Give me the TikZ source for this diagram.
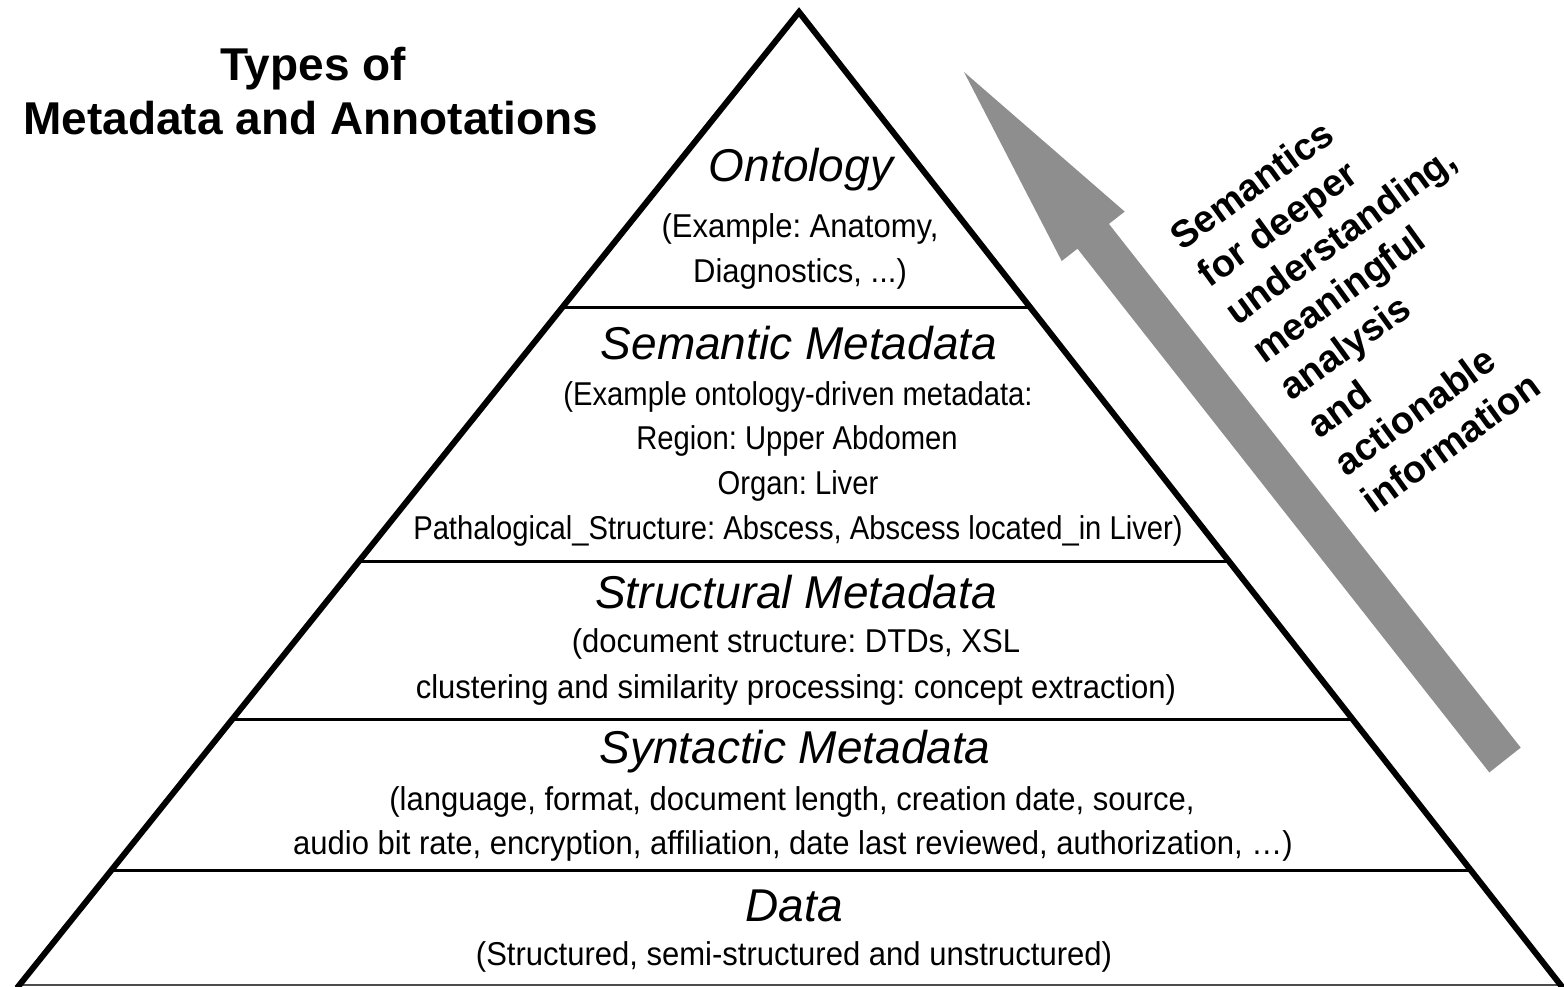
\documentclass[tikz,border=0pt]{standalone}
\usepackage{fontspec}
\setmainfont{Liberation Sans}
\newfontfamily\bodyfont[FakeStretch=0.94]{Liberation Sans}
\newfontfamily\semfont[FakeStretch=0.885]{Liberation Sans}
\usetikzlibrary{calc}
\definecolor{arrowgray}{RGB}{142,142,142}
\frenchspacing
\begin{document}
\begin{tikzpicture}[x=1pt,y=-1pt,
  side/.style={line width=6pt, line join=miter, line cap=butt},
  tier/.style={line width=3pt},
  ground/.style={line width=2pt, draw=black!70},
  head/.style={font=\itshape\fontsize{46}{50}\selectfont, anchor=base, inner sep=0pt},
  body/.style={font=\bodyfont\fontsize{33}{40}\selectfont, anchor=base, inner sep=0pt},
  sembody/.style={font=\semfont\fontsize{33}{40}\selectfont, anchor=base, inner sep=0pt},
  title/.style={font=\bfseries\fontsize{46}{50}\selectfont, anchor=base, inner sep=0pt},
  note/.style={font=\bfseries\fontsize{38}{46.5}\selectfont, align=left, anchor=north west, inner sep=0pt, rotate=36}]
\useasboundingbox (0,0) rectangle (1564,986);

% pyramid corners
\coordinate (apex) at (799,12);
\coordinate (bl) at (17,988);
\coordinate (br) at (1563,988);

% tier boundaries
\foreach \t [count=\i] in {0.3023,0.5635,0.7244,0.8801} {
  \coordinate (l\i) at ($(apex)!\t!(bl)$);
  \coordinate (r\i) at ($(apex)!\t!(br)$);
  \draw[tier] (l\i) -- (r\i);
}
\coordinate (gl) at (17,985);
\coordinate (gr) at (1564,985);
\draw[ground] (gl) -- (gr);
\draw[side] (bl) -- (apex) -- (br);

% rising arrow
\coordinate (t1) at (1520.7,747.6);
\coordinate (t2) at (1489.3,772.4);
\coordinate (n1) at (1108.9,223.9);
\coordinate (n2) at (1077.5,248.7);
\coordinate (h1) at (1124.7,211.6);
\coordinate (h2) at (1061.7,261.0);
\coordinate (tip) at (964,72);
\fill[arrowgray] (t1) -- (n1) -- (h1) -- (tip) -- (h2) -- (n2) -- (t2) -- cycle;

% title
\node[title] (ttl1) at (313,80) {Types of};
\node[title] (ttl2) at (311,134) {Metadata and Annotations};

% tier texts
\node[head] (onto) at (801,181) {Ontology};
\node[body] (onto1) at (800,237) {(Example: Anatomy,};
\node[body] (onto2) at (800,282) {Diagnostics, ...)};

\node[head] (sem) at (799,359) {Semantic Metadata};
\node[sembody] (sem1) at (798,405) {(Example ontology-driven metadata:};
\node[sembody] (sem2) at (797,449) {Region: Upper Abdomen};
\node[sembody] (sem3) at (798,494) {Organ: Liver};
\node[sembody] (sem4) at (798,539) {Pathalogical\_Structure: Abscess, Abscess located\_in Liver)};

\node[head] (str) at (796,608) {Structural Metadata};
\node[body] (str1) at (796,652) {(document structure: DTDs, XSL};
\node[body] (str2) at (796,698) {clustering and similarity processing: concept extraction)};

\node[head] (syn) at (795,763) {Syntactic Metadata};
\node[body] (syn1) at (792,810) {(language, format, document length, creation date, source,};
\node[body] (syn2) at (793,854) {audio bit rate, encryption, affiliation, date last reviewed, authorization, \dots)};

\node[head] (dat) at (794,921) {Data};
\node[body] (dat1) at (794,965) {(Structured, semi-structured and unstructured)};

% arrow caption
\node[note] (cap) at (1166,229) {Semantics\\for deeper\\understanding,\\meaningful\\analysis\\and\\actionable\\information};
\end{tikzpicture}
\end{document}
